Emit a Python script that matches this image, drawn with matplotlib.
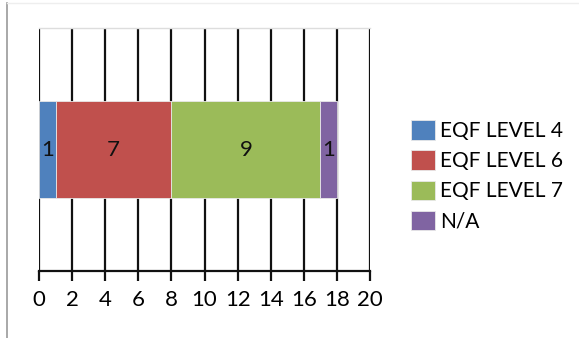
import matplotlib
matplotlib.use("Agg")
import matplotlib.pyplot as plt
from matplotlib.lines import Line2D

categories = ["EQF LEVEL 4", "EQF LEVEL 6", "EQF LEVEL 7", "N/A"]
values = [1, 7, 9, 1]
colors = ["#4F81BD", "#C0504D", "#9BBB59", "#8064A2"]
xticks = [0, 2, 4, 6, 8, 10, 12, 14, 16, 18, 20]

plt.rcParams['font.family'] = ['Lato', 'DejaVu Sans']

fig = plt.figure(figsize=(5.79, 3.38), dpi=100)
ax = fig.add_axes([39/579, 1-271/338, (370-39)/579, (271-28)/338])

left = 0
for cat, v, c in zip(categories, values, colors):
    ax.barh(0, v, left=left, height=0.8, color=c, edgecolor="#e8e8e8", linewidth=0.6, zorder=3, label=cat)
    ax.text(left + v/2, 0, str(v), ha="center", va="center", fontsize=16, color="#111111", zorder=4)
    left += v

ax.set_xlim(0, 20)
ax.set_ylim(-1, 1)
ax.set_xticks(xticks)
ax.set_xticklabels([str(t) for t in xticks], fontsize=16)
ax.set_yticks([])
for x in xticks:
    ax.axvline(x, color="#111111", linewidth=1.6, zorder=1)
for s in ["left", "right"]:
    ax.spines[s].set_visible(False)
ax.spines["top"].set_color("#dddddd")
ax.spines["top"].set_linewidth(1.0)
ax.spines["bottom"].set_color("#111111")
ax.spines["bottom"].set_linewidth(1.6)
ax.tick_params(axis="x", length=7, width=1.6, color="#111111", pad=7)

leg = fig.legend(loc="upper left", bbox_to_anchor=(403/579, 1-112/338), frameon=False,
                 fontsize=15, handlelength=1.15, handleheight=1.05, handletextpad=0.25,
                 labelspacing=0.45, borderaxespad=0)

# chart border lines
fig.add_artist(Line2D([6.5/579, 6.5/579], [0, 1-3/338], transform=fig.transFigure, color="#999999", linewidth=1.2))
fig.add_artist(Line2D([6.5/579, 1], [1-3/338, 1-3/338], transform=fig.transFigure, color="#eeeeee", linewidth=1.0))

fig.savefig("out.png", dpi=100)
